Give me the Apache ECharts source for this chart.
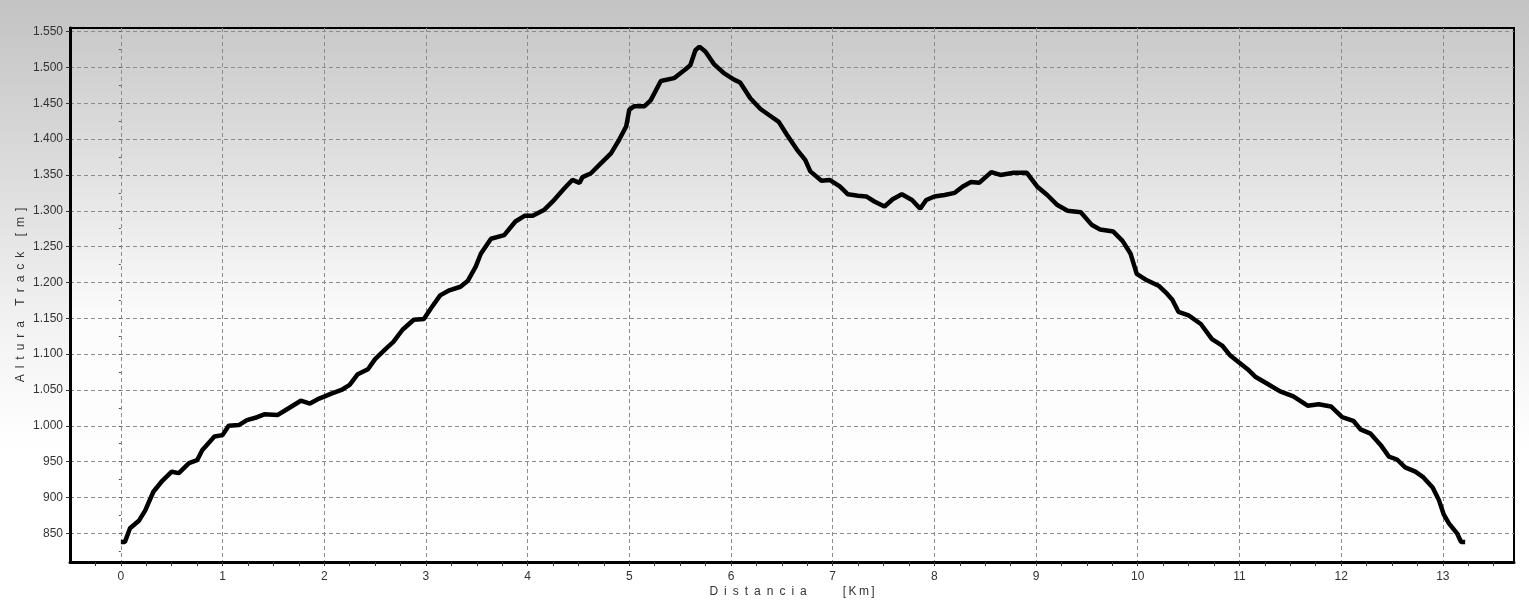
<!DOCTYPE html>
<html>
<head>
<meta charset="utf-8">
<script src="https://cdn.jsdelivr.net/npm/echarts@6/dist/echarts.min.js"></script>
<style>
  html, body { margin: 0; padding: 0; }
  #perfil { width: 1529px; height: 600px; }
</style>
</head>
<body>
<div id="perfil"></div>
<script>
// distancia recorrida (km)
var distKm = [0, 0.04, 0.09, 0.18, 0.24, 0.32, 0.40, 0.50, 0.57, 0.67, 0.75, 0.80, 0.92, 1.00,
  1.06, 1.16, 1.24, 1.34, 1.41, 1.54, 1.61, 1.69, 1.77, 1.86, 1.95, 2.07, 2.17, 2.25, 2.33,
  2.43, 2.50, 2.61, 2.68, 2.77, 2.88, 2.98, 3.05, 3.14, 3.23, 3.34, 3.41, 3.49, 3.54, 3.64,
  3.77, 3.88, 3.97, 4.05, 4.16, 4.26, 4.36, 4.44, 4.51, 4.54, 4.62, 4.72, 4.82, 4.90, 4.97,
  5.00, 5.05, 5.15, 5.21, 5.31, 5.44, 5.55, 5.60, 5.65, 5.69, 5.75, 5.83, 5.93, 6.03, 6.09,
  6.19, 6.29, 6.37, 6.47, 6.55, 6.65, 6.73, 6.78, 6.89, 6.97, 7.07, 7.15, 7.25, 7.33, 7.41,
  7.51, 7.59, 7.68, 7.78, 7.86, 7.92, 8.00, 8.10, 8.20, 8.28, 8.36, 8.44, 8.56, 8.65, 8.78,
  8.91, 9.01, 9.11, 9.21, 9.31, 9.44, 9.55, 9.63, 9.76, 9.85, 9.93, 9.99, 10.09, 10.21, 10.29,
  10.34, 10.40, 10.50, 10.62, 10.73, 10.83, 10.91, 10.99, 11.08, 11.16, 11.27, 11.40, 11.53,
  11.67, 11.78, 11.90, 12.01, 12.12, 12.19, 12.29, 12.39, 12.47, 12.55, 12.63, 12.73, 12.81,
  12.90, 12.96, 13.01, 13.06, 13.14, 13.18, 13.22];
// altura (m)
var alturaM = [838, 838, 857, 868, 882, 908, 922, 936, 934, 948, 952, 966, 985, 987,
  1000, 1001, 1008, 1012, 1016, 1015, 1021, 1028, 1035, 1031, 1038, 1045, 1050, 1057, 1072,
  1079, 1093, 1108, 1117, 1134, 1148, 1149, 1164, 1182, 1189, 1194, 1202, 1222, 1240, 1261,
  1266, 1285, 1293, 1293, 1301, 1315, 1331, 1343, 1339, 1347, 1352, 1366, 1380, 1399, 1418,
  1441, 1446, 1446, 1454, 1481, 1485, 1497, 1503, 1524, 1529, 1522, 1505, 1492, 1483, 1479,
  1457, 1442, 1434, 1424, 1406, 1385, 1371, 1355, 1342, 1343, 1334, 1323, 1321, 1320, 1313,
  1306, 1316, 1323, 1315, 1303, 1315, 1320, 1322, 1325, 1334, 1340, 1339, 1354, 1350, 1353,
  1353, 1334, 1322, 1308, 1300, 1298, 1280, 1274, 1271, 1258, 1240, 1212, 1203, 1195, 1184,
  1176, 1159, 1154, 1142, 1121, 1112, 1098, 1089, 1079, 1068, 1059, 1048, 1041,
  1028, 1030, 1027, 1012, 1007, 995, 989, 973, 957, 953, 942, 936, 928,
  914, 897, 876, 864, 850, 838, 838];

var xTicks = [0, 1, 2, 3, 4, 5, 6, 7, 8, 9, 10, 11, 12, 13];
var yTicks = [850, 900, 950, 1000, 1050, 1100, 1150, 1200, 1250, 1300, 1350, 1400, 1450, 1500, 1550];

var xMin = -0.5, xMax = 13.7;
var yMin = 810, yMax = 1555;

// marcas menores (cada 0,25 km y cada 25 m)
var xMinor = [];
for (var i = -1; i <= 54; i++) { xMinor.push(i * 0.25); }
var yMinor = [];
for (var j = 0; j <= 29; j++) { yMinor.push(825 + j * 25); }

var puntos = distKm.map(function (d, k) { return [d, alturaM[k]]; });

function miles(v) {
  return String(v).replace(/\B(?=(\d{3})+(?!\d))/g, '.');
}
// titulos con letras separadas
function espaciado(txt, sepLetra, sepPalabra, sepCorchete) {
  return txt.split(' ').map(function (w) {
    return w.split('').join(w.charAt(0) === '[' ? sepCorchete : sepLetra);
  }).join(sepPalabra);
}

var fuente = 'Liberation Sans, Arial, sans-serif';
var gridLine = { show: true, lineStyle: { color: '#8c8c8c', type: [4, 3], width: 1 } };
var labelStyle = { color: '#333', fontSize: 12, fontFamily: fuente };

var chart = echarts.init(document.getElementById('perfil'));
chart.setOption({
  animation: false,
  backgroundColor: {
    type: 'linear', x: 0, y: 0, x2: 0, y2: 1,
    colorStops: [
      { offset: 0, color: '#c3c3c3' },
      { offset: 0.55, color: '#f3f3f3' },
      { offset: 0.75, color: '#ffffff' }
    ]
  },
  grid: {
    left: 70, right: 15, top: 28, bottom: 38,
    outerBoundsMode: 'none',
    show: true,
    borderColor: '#000',
    borderWidth: 2,
    backgroundColor: {
      type: 'linear', x: 0, y: 0, x2: 0, y2: 1,
      colorStops: [
        { offset: 0, color: '#c9c9c9' },
        { offset: 0.55, color: '#fcfcfc' },
        { offset: 1, color: '#ffffff' }
      ]
    }
  },
  xAxis: [
    {
      type: 'value', min: xMin, max: xMax, position: 'bottom',
      name: espaciado('Distancia [Km]', '\u2002', '\u2003\u2003\u2003', '\u2009'),
      nameLocation: 'middle', nameGap: 24, nameMoveOverlap: false,
      nameTextStyle: { color: '#333', fontSize: 12, fontFamily: fuente },
      axisLine: { show: true, onZero: false, lineStyle: { color: '#000', width: 3 } },
      axisTick: { show: false, customValues: xTicks },
      axisLabel: Object.assign({ customValues: xTicks, margin: 9 }, labelStyle),
      splitLine: gridLine
    },
    {
      type: 'value', min: xMin, max: xMax, position: 'bottom',
      axisLine: { show: false },
      axisTick: { show: true, customValues: xMinor, length: 4, lineStyle: { color: '#333' } },
      axisLabel: { show: false },
      splitLine: { show: false }
    }
  ],
  yAxis: [
    {
      type: 'value', min: yMin, max: yMax, position: 'left',
      name: espaciado('Altura Track [m]', '\u2002', '\u2003 ', '\u2002'),
      nameLocation: 'middle', nameGap: 43, nameMoveOverlap: false,
      nameTextStyle: { color: '#333', fontSize: 12, fontFamily: fuente },
      axisLine: { show: true, onZero: false, lineStyle: { color: '#000', width: 3 } },
      axisTick: { show: true, customValues: yTicks, length: 4, lineStyle: { color: '#333' } },
      axisLabel: Object.assign({ customValues: yTicks, margin: 7, formatter: miles }, labelStyle),
      splitLine: gridLine
    },
    {
      type: 'value', min: yMin, max: yMax, position: 'left',
      axisLine: { show: false },
      axisTick: { show: true, customValues: yMinor, length: 2, lineStyle: { color: '#555' } },
      axisLabel: { show: false },
      splitLine: { show: false }
    }
  ],
  series: [
    {
      name: 'Altura Track',
      type: 'line',
      xAxisIndex: 0,
      yAxisIndex: 0,
      data: puntos,
      showSymbol: false,
      symbol: 'none',
      lineStyle: { color: '#000', width: 4.5 },
      z: 5
    }
  ]
});
</script>
</body>
</html>
